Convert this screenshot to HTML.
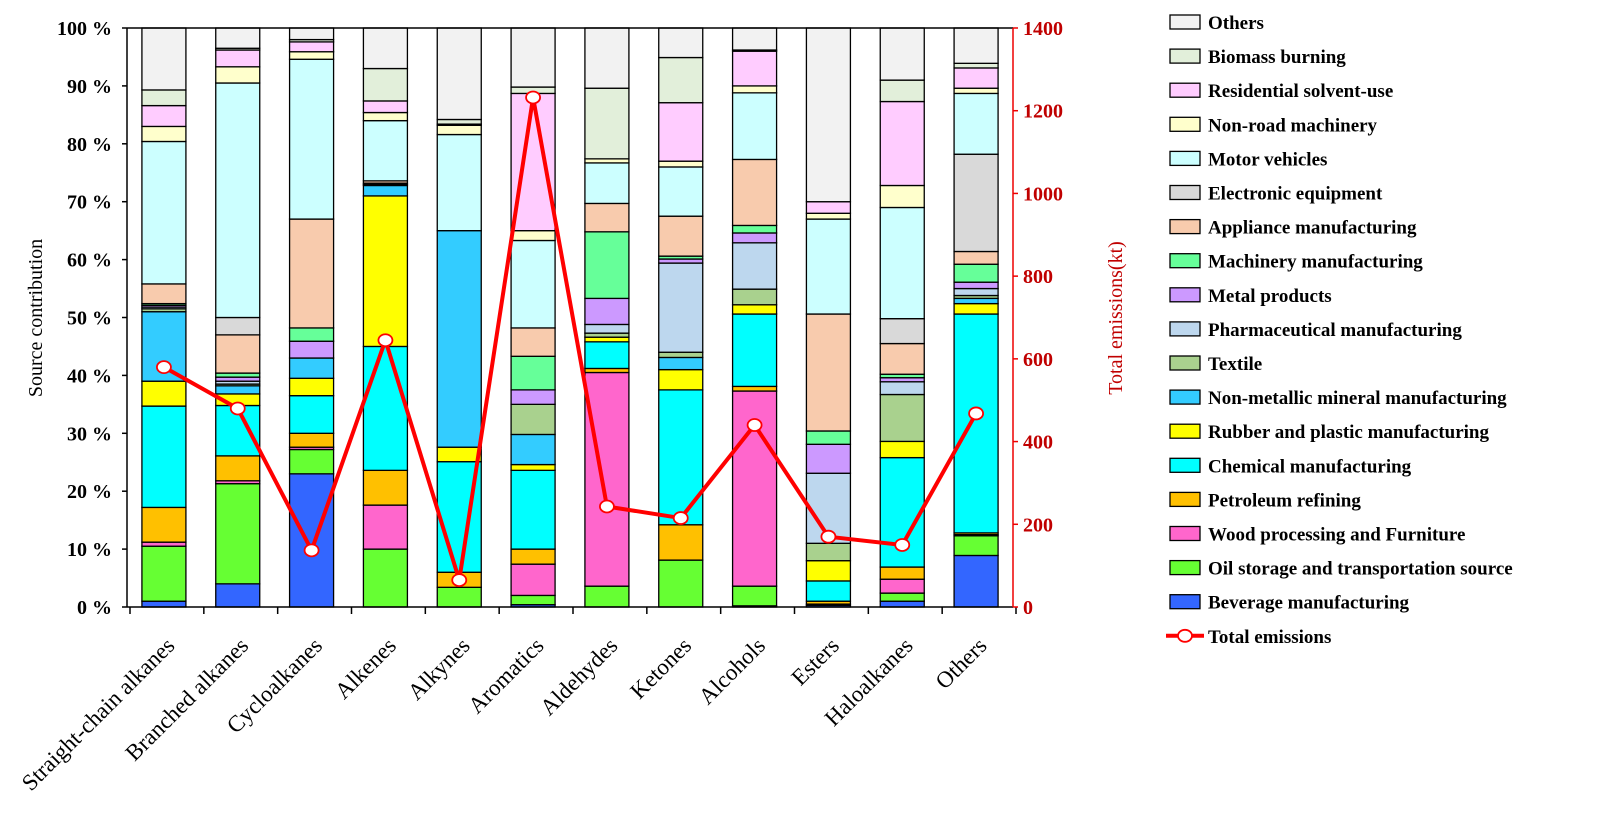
<!DOCTYPE html>
<html><head><meta charset="utf-8"><style>
body{margin:0;background:#fff}
svg text{font-family:"Liberation Serif",serif}
</style></head><body>
<svg id="c" width="1611" height="819" xmlns="http://www.w3.org/2000/svg"></svg>
<script>
const categories=["Straight-chain alkanes","Branched alkanes","Cycloalkanes","Alkenes","Alkynes","Aromatics","Aldehydes","Ketones","Alcohols","Esters","Haloalkanes","Others"];
const seriesNames=["Beverage manufacturing","Oil storage and transportation source","Wood processing and Furniture","Petroleum refining","Chemical manufacturing","Rubber and plastic manufacturing","Non-metallic mineral manufacturing","Textile","Pharmaceutical manufacturing","Metal products","Machinery manufacturing","Appliance manufacturing","Electronic equipment","Motor vehicles","Non-road machinery","Residential solvent-use","Biomass burning","Others"];
const seriesColors=["#3366ff","#66ff33","#ff66cc","#ffc000","#00ffff","#ffff00","#33ccff","#a9d18e","#bdd7ee","#cc99ff","#66ff99","#f8cbad","#d9d9d9","#ccffff","#ffffcc","#ffccff","#e2efda","#f2f2f2"];
const values=[
[1,4,23,0,0,0.4,0,0,0.2,0.3,1,8.9],
[9.5,17.3,4.2,10,3.4,1.6,3.6,8.1,3.4,0.2,1.4,3.4],
[0.7,0.5,0.4,7.6,0,5.4,36.9,0,33.7,0,2.4,0.2],
[6,4.3,2.4,6,2.6,2.6,0.7,6.1,0.8,0.5,2.1,0.3],
[17.5,8.7,6.5,21.4,19.1,13.6,4.6,23.3,12.5,3.5,18.9,37.8],
[4.3,2,3,26,2.5,1,0.8,3.5,1.6,3.5,2.8,1.8],
[12,1.4,3.5,1.8,37.4,5.2,0,2.1,0,0,0,0.9],
[0.5,0.3,0,0,0,5.2,0.7,0.9,2.7,3,8.1,0.5],
[0.3,0.5,0,0,0,0,1.5,15.4,8,12.1,2.2,1.2],
[0.3,0.7,2.9,0.2,0,2.5,4.5,0.7,1.7,5,0.7,1.1],
[0.3,0.7,2.3,0.2,0,5.8,11.5,0.5,1.3,2.3,0.6,3.1],
[3.4,6.6,18.8,0.4,0,4.9,4.9,6.9,11.4,20.2,5.3,2.2],
[0,3,0,0,0,0,0,0,0,0,4.3,16.8],
[24.6,40.5,27.6,10.4,16.6,15.1,7,8.5,11.5,16.4,19.2,10.5],
[2.6,2.8,1.3,1.4,1.6,1.7,0.7,1,1.2,1,3.8,0.9],
[3.6,2.9,1.7,2,0.2,23.7,0,10.1,6,2,14.5,3.5],
[2.7,0.3,0.4,5.6,0.8,1.1,12.2,7.8,0.2,0,3.7,0.8],
[10.7,3.5,2,7,15.8,10.2,10.4,5.1,3.8,30,9,6.1]];
const totals=[580,480,137,645,65,1232,243,215,440,170,150,468];
const leftTicks=[0,10,20,30,40,50,60,70,80,90,100];
const rightTicks=[0,200,400,600,800,1000,1200,1400];

const NS="http://www.w3.org/2000/svg",svg=document.getElementById('c');
function el(t,a,p){const e=document.createElementNS(NS,t);for(const k in a)e.setAttribute(k,a[k]);(p||svg).appendChild(e);return e;}
const X0=127,X1=1013,Y0=607,Y1=28,band=(X1-X0)/categories.length,BW=44;
const yL=v=>Y0-(v/100)*(Y0-Y1);
const yR=v=>Y0-(v/1400)*(Y0-Y1);
const xC=i=>X0+band*(i+0.5);

categories.forEach((c,i)=>{
  const g=el('g',{});
  
  
  let cum=0;const sum=values.reduce((s,r)=>s+r[i],0);
  values.forEach((row,s)=>{
    const v=row[i]/sum*100;if(v<=0)return;
    const r=el('rect',{x:xC(i)-BW/2,y:yL(cum+v),width:BW,height:yL(cum)-yL(cum+v),fill:seriesColors[s],stroke:'#000','stroke-width':1.3},g);
    
    
    cum+=v;
  });
});
let a=el('line',{x1:X0,y1:Y1,x2:X0,y2:Y0,stroke:'#000','stroke-width':1.5});

a=el('line',{x1:X0,y1:Y0,x2:X1,y2:Y0,stroke:'#000','stroke-width':1.5});

a=el('line',{x1:X0,y1:Y1,x2:X1,y2:Y1,stroke:'#000','stroke-width':1.5});

a=el('line',{x1:X1,y1:Y1,x2:X1,y2:Y0,stroke:'#e00','stroke-width':1.5});

for(let i=0;i<=categories.length;i++){
  el('line',{x1:X0+band*i+3,y1:Y0,x2:X0+band*i+3,y2:Y0+7,stroke:'#000','stroke-width':1.5});
}
leftTicks.forEach(t=>{
  el('line',{x1:X0-5,y1:yL(t),x2:X0,y2:yL(t),stroke:'#000','stroke-width':1.5});
  const tx=el('text',{x:X0-15,y:yL(t)+7,'text-anchor':'end','font-size':20,'font-weight':'bold'});
  tx.textContent=t+' %';
  
});
rightTicks.forEach(t=>{
  el('line',{x1:X1,y1:yR(t),x2:X1+5,y2:yR(t),stroke:'#e00','stroke-width':1.5});
  const tx=el('text',{x:X1+10,y:yR(t)+7,'font-size':20,'font-weight':'bold',fill:'#c00000'});
  tx.textContent=t;
  
});
categories.forEach((c,i)=>{
  const ax=xC(i)+12,ay=Y0+40;
  const tx=el('text',{x:ax,y:ay,'text-anchor':'end','font-size':23,transform:`rotate(-45 ${ax} ${ay})`});
  tx.textContent=c;
  
});
let t=el('text',{x:42,y:318,'text-anchor':'middle','font-size':20,transform:'rotate(-90 42 318)'});
t.textContent='Source contribution';
t=el('text',{x:1122,y:318,'text-anchor':'middle','font-size':20,fill:'#c00000',transform:'rotate(-90 1122 318)'});
t.textContent='Total emissions(kt)';
const pts=totals.map((v,i)=>xC(i)+','+yR(v)).join(' ');
const pl=el('polyline',{points:pts,fill:'none',stroke:'#ff0000','stroke-width':4,'stroke-linejoin':'round'});

totals.forEach((v,i)=>{
  const c=el('ellipse',{cx:xC(i),cy:yR(v),rx:7,ry:6,fill:'#fff',stroke:'#ff0000','stroke-width':1.8});
  
});
const order=seriesNames.map((n,i)=>i).reverse();
order.forEach((s,k)=>{
  const y=22+k*34.1;
  const g=el('g',{});
  
  el('rect',{x:1170,y:y-7,width:30,height:14,fill:seriesColors[s],stroke:'#000','stroke-width':1.3},g);
  const tx=el('text',{x:1208,y:y+7,'font-size':19,'font-weight':'bold'},g);
  tx.textContent=seriesNames[s];
});
const ly=22+18*34.1;
const lg=el('g',{});

el('line',{x1:1166,y1:ly,x2:1204,y2:ly,stroke:'#ff0000','stroke-width':4},lg);
el('ellipse',{cx:1185,cy:ly,rx:7,ry:6,fill:'#fff',stroke:'#ff0000','stroke-width':1.8},lg);
const lt=el('text',{x:1208,y:ly+7,'font-size':19,'font-weight':'bold'},lg);lt.textContent='Total emissions';
</script>
</body></html>
